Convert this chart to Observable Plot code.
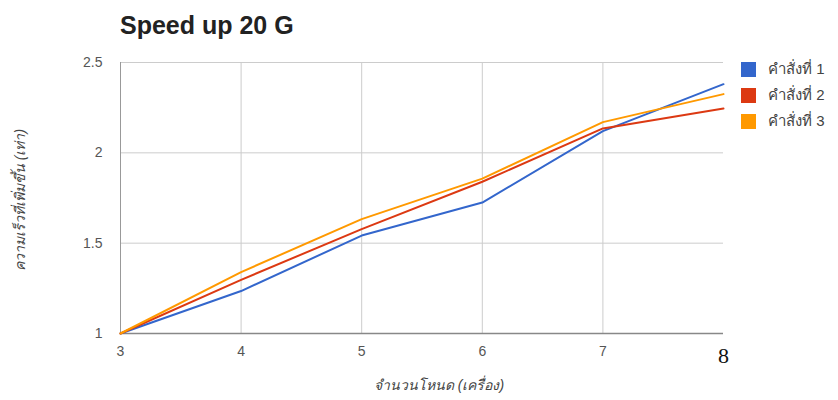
<!DOCTYPE html>
<html>
<head>
<meta charset="utf-8">
<script src="https://cdn.jsdelivr.net/npm/d3@7"></script>
<script src="https://cdn.jsdelivr.net/npm/@observablehq/plot@0.6"></script>
<style>
  html, body { margin: 0; padding: 0; background: #fff; }
  #wrap { position: relative; width: 838px; height: 400px; font-family: "Liberation Sans", Arial, sans-serif; }
  #title { position: absolute; left: 120px; top: 11px; font-size: 25px; font-weight: bold; color: #222; }
  #ylab { position: absolute; left: 20px; top: 200px; transform: translate(-50%, -50%) rotate(-90deg); font-size: 14px; font-style: italic; color: #444; white-space: nowrap; }
  #xlab { position: absolute; left: 439px; top: 385px; transform: translate(-50%, -50%); font-size: 14px; font-style: italic; color: #444; white-space: nowrap; }
  #legend { position: absolute; left: 741px; top: 56px; }
  .item { display: flex; align-items: center; height: 26px; font-size: 15px; color: #444; }
  .sw { width: 15px; height: 15px; margin-right: 12px; }
  svg { position: absolute; left: 0; top: 0; }
</style>
</head>
<body>
<div id="wrap">
  <div id="title"></div>
  <div id="ylab"></div>
  <div id="xlab"></div>
  <div id="legend"></div>
</div>
<script>
const titleText = "Speed up 20 G";
const yLabel = "ความเร็วที่เพิ่มขึ้น (เท่า)";
const xLabel = "จำนวนโหนด (เครื่อง)";
const nodes = [3, 4, 5, 6, 7, 8];
const seriesNames = ["คำสั่งที่ 1", "คำสั่งที่ 2", "คำสั่งที่ 3"];
const cmd1 = [1.0, 1.235, 1.542, 1.725, 2.12, 2.38];
const cmd2 = [1.0, 1.297, 1.578, 1.84, 2.135, 2.245];
const cmd3 = [1.0, 1.34, 1.633, 1.857, 2.17, 2.325];
const colors = ["#3366cc", "#dc3912", "#ff9900"];
const yTicks = [1, 1.5, 2, 2.5];
const xTicks = [3, 4, 5, 6, 7];
const xLastTick = [8];

const seriesValues = [cmd1, cmd2, cmd3];
const data = [];
seriesValues.forEach((vals, si) => {
  vals.forEach((v, i) => data.push({ x: nodes[i], y: v, s: seriesNames[si] }));
});

document.getElementById("title").textContent = titleText;
document.getElementById("ylab").textContent = yLabel;
document.getElementById("xlab").textContent = xLabel;
const legend = document.getElementById("legend");
seriesNames.forEach((n, i) => {
  const d = document.createElement("div");
  d.className = "item";
  d.innerHTML = `<div class="sw" style="background:${colors[i]}"></div><span>${n}</span>`;
  legend.appendChild(d);
});

const chart = Plot.plot({
  width: 838,
  height: 400,
  marginLeft: 120,
  marginRight: 115,
  marginTop: 62,
  marginBottom: 67,
  style: { fontFamily: "Liberation Sans, Arial, sans-serif", background: "transparent" },
  x: { domain: [3, 8] },
  y: { domain: [1, 2.5] },
  color: { domain: seriesNames, range: colors },
  marks: [
    Plot.gridY(yTicks.slice(1), { stroke: "#cccccc", strokeOpacity: 1, strokeWidth: 1 }),
    Plot.gridX(xTicks.slice(1), { stroke: "#cccccc", strokeOpacity: 1, strokeWidth: 1 }),
    Plot.ruleX([3], { stroke: "#999999", strokeWidth: 1 }),
    Plot.ruleY([1], { stroke: "#888888", strokeWidth: 1.5 }),
    Plot.line(data, { x: "x", y: "y", z: "s", stroke: "s", strokeWidth: 2 }),
    Plot.axisY(yTicks, { tickSize: 0, tickPadding: 18, fontSize: 14, fill: "#555", tickFormat: d => String(d), label: null }),
    Plot.axisX(xTicks, { tickSize: 0, tickPadding: 13, fontSize: 14, fill: "#555", tickFormat: d => String(d), label: null }),
    Plot.axisX(xLastTick, { tickSize: 0, tickPadding: 14, fontSize: 22, fill: "#111", fontFamily: "Liberation Serif, serif", tickFormat: d => String(d), label: null })
  ]
});
document.getElementById("wrap").appendChild(chart);
</script>
</body>
</html>
